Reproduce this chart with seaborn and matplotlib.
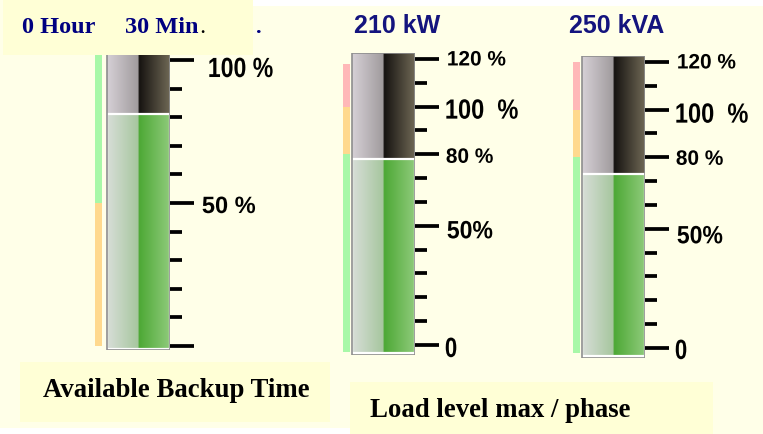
import numpy as np
import matplotlib
matplotlib.use("Agg")
import matplotlib.pyplot as plt
from matplotlib.patches import Rectangle
from matplotlib.colors import to_rgb
from matplotlib.transforms import Affine2D, ScaledTranslation
from matplotlib import patheffects
import seaborn as sns

# ===================================
# DATA
# ===================================
gauge_names = ["Backup time", "Load kW", "Load kVA"]
gauge_values = [81, 78, 73]                 # bar level in %
gauge_titles = ["", "210 kW", "250 kVA"]
scale_top = [100, 120, 120]
major_ticks = [[0, 50, 100], [0, 50, 80, 100, 120], [0, 50, 80, 100, 120]]
major_labels = [["", "50 %", "100 %"],
                ["0", "50%", "80 %", "100  %", "120 %"],
                ["0", "50%", "80 %", "100  %", "120 %"]]
zone_edges = [[0, 50, 102], [-3, 80, 100, 118], [-2, 80, 100, 120]]
zone_names = [["warn", "ok"], ["ok", "warn", "alarm"], ["ok", "warn", "alarm"]]
backup_hours = "0 Hour"
backup_minutes = "30 Min"
bottom_labels = ["Available Backup Time", "Load level max / phase"]

# ===================================
# STYLE / LAYOUT
# ===================================
W, H = 763, 434
BG = "#FFFFE8"
BOX = "#FFFFD6"
NAVY = "#14147E"
zone_colors = {"ok": "#A8F8A8", "warn": "#FFD98E", "alarm": "#FFB8B8"}
# axes boxes in pixels: left, top, width, height
axes_px = [(95, 54.3, 75, 296), (343, 53, 72, 301.5), (573, 56, 72, 301.5)]
ylims = [(-1.5, 102), (-4, 122.5), (-4, 122.5)]
label_sizes = [[20, 17, 20], [20, 18, 15, 20, 15], [20, 18, 15, 20, 15]]
label_squeeze = [[1, 1, 0.83], [0.8, 0.92, 1, 0.85, 1], [0.8, 0.92, 1, 0.85, 1]]
label_dx = [[0, 2, 8], [0, 2, 1, 0, 2], [0, 2, 1, 0, 2]]            # pixels
label_dy = [[0, -1, -7], [-2, -3, -1, -2, 1], [-1, -5, 0, -3, 1]]   # pixels
title_px = [None, (397, 33), (617, 33)]


class Squeeze(patheffects.AbstractPathEffect):
    """narrow the glyphs around the text origin (no narrow font installed)"""

    def __init__(self, sx):
        super().__init__()
        self.sx = sx

    def draw_path(self, renderer, gc, tpath, affine, rgbFace=None):
        x0, y0 = affine.transform((0, 0))
        narrow = Affine2D().translate(-x0, -y0).scale(self.sx, 1).translate(x0, y0)
        renderer.draw_path(gc, tpath, affine + narrow, rgbFace)


def gradient(stops, n=128):
    pos = [s[0] for s in stops]
    cols = np.array([to_rgb(s[1]) for s in stops])
    t = np.linspace(0, 1, n)
    img = np.stack([np.interp(t, pos, cols[:, k]) for k in range(3)], axis=-1)
    return img[np.newaxis, :, :]


empty_img = gradient([(0, "#D6D0D6"), (0.5, "#A09B9D"), (0.505, "#151210"), (1, "#6E6754")])
fill_img = gradient([(0, "#D8DED8"), (0.5, "#A6C69E"), (0.505, "#4CA834"), (1, "#8ECA7A")])


def fig_box(x, y, w, h):
    return [x / W, 1 - (y + h) / H, w / W, h / H]


sns.set_theme(style="white")
fig = plt.figure(figsize=(W / 100, H / 100), dpi=100)
fig.patch.set_facecolor(BG)

# background panels of the screen
panels = [((3, 0, 250, 55), BOX), ((253, 0, 510, 6), "white"),
          ((20, 362, 310, 60), BOX), ((350, 382, 363, 52), BOX),
          ((0, 428, 350, 6), "white")]
for (x, y, w, h), c in panels:
    l, b, ww, hh = fig_box(x, y, w, h)
    fig.patches.append(Rectangle((l, b), ww, hh, transform=fig.transFigure,
                                 facecolor=c, edgecolor="none", zorder=0.5))

for i in range(3):
    left, top, width, height = axes_px[i]
    ax = fig.add_axes(fig_box(left, top, width, height))
    ax.patch.set_alpha(0)
    ylo, yhi = ylims[i]
    xleft = -0.5 - (width - 63) / 63
    strip = 7 / width

    # coloured zone strip
    for lo, hi, z in zip(zone_edges[i][:-1], zone_edges[i][1:], zone_names[i]):
        ax.axhspan(lo, hi, xmin=0, xmax=strip, color=zone_colors[z], lw=0, zorder=1)

    # empty tube
    ax.imshow(empty_img, extent=(-0.5, 0.5, ylo, yhi), aspect="auto",
              interpolation="bilinear", zorder=1.5)

    # level bar
    sns.barplot(x=[gauge_names[i]], y=[gauge_values[i]], ax=ax, width=1,
                color="#4CA834", zorder=2)
    bar = ax.containers[-1][0]
    bar.set_y(ylo + 0.6)
    bar.set_height(gauge_values[i] - ylo - 0.6)
    bar.set_facecolor("none")
    bar.set_edgecolor("white")
    bar.set_linewidth(1.6)
    bar.set_zorder(3)
    ax.imshow(fill_img, extent=(-0.5, 0.5, ylo + 0.6, gauge_values[i]),
              aspect="auto", interpolation="bilinear", zorder=2.5)
    ax.add_patch(Rectangle((-0.5, ylo), 1, yhi - ylo, fill=False,
                           edgecolor="#8E8E8E", lw=1.2, zorder=3.5))

    ax.set_xlim(xleft, 0.5)
    ax.set_ylim(ylo, yhi)
    ax.set_xticks([])
    ax.set_xlabel("")
    ax.set_ylabel("")
    for s in ax.spines.values():
        s.set_visible(False)

    ax.yaxis.tick_right()
    ax.set_yticks(major_ticks[i], major_labels[i])
    ax.set_yticks(range(0, scale_top[i] + 1, 10), minor=True)
    ax.tick_params(axis="y", which="both", direction="out", width=2.7,
                   color="black", right=True, left=False)
    ax.tick_params(axis="y", which="major", length=17, pad=4.5)
    ax.tick_params(axis="y", which="minor", length=8.5)
    for lab, size, sx, dx, dy in zip(ax.get_yticklabels(), label_sizes[i],
                                     label_squeeze[i], label_dx[i], label_dy[i]):
        lab.set_fontsize(size)
        lab.set_family("Liberation Sans")
        lab.set_fontweight("bold")
        lab.set_color("black")
        lab.set_path_effects([Squeeze(sx)])
        lab.set_transform(lab.get_transform() +
                          ScaledTranslation(dx / 100, dy / 100, fig.dpi_scale_trans))

    if title_px[i]:
        tx, ty = title_px[i]
        fig.text(tx / W, 1 - ty / H, gauge_titles[i], ha="center", va="baseline",
                 fontsize=18, fontweight="bold", color=NAVY,
                 family="Liberation Sans", zorder=4)

# backup time readout
serif = dict(family="Liberation Serif", fontweight="bold", va="baseline", zorder=4)
fig.text(22 / W, 1 - 33 / H, backup_hours, fontsize=17.5, color="#000080", **serif)
fig.text(125 / W, 1 - 33 / H, backup_minutes, fontsize=17.5, color="#000080", **serif)
fig.text(200 / W, 1 - 33 / H, ".", fontsize=12, color="black", **serif)
fig.text(256 / W, 1 - 33 / H, ".", fontsize=16, color="#000080", **serif)

fig.text(43 / W, 1 - 397 / H, bottom_labels[0], fontsize=19.3, color="black", **serif)
fig.text(370 / W, 1 - 417 / H, bottom_labels[1], fontsize=19.3, color="black", **serif)

fig.savefig("out.png", dpi=100, facecolor=fig.get_facecolor())
